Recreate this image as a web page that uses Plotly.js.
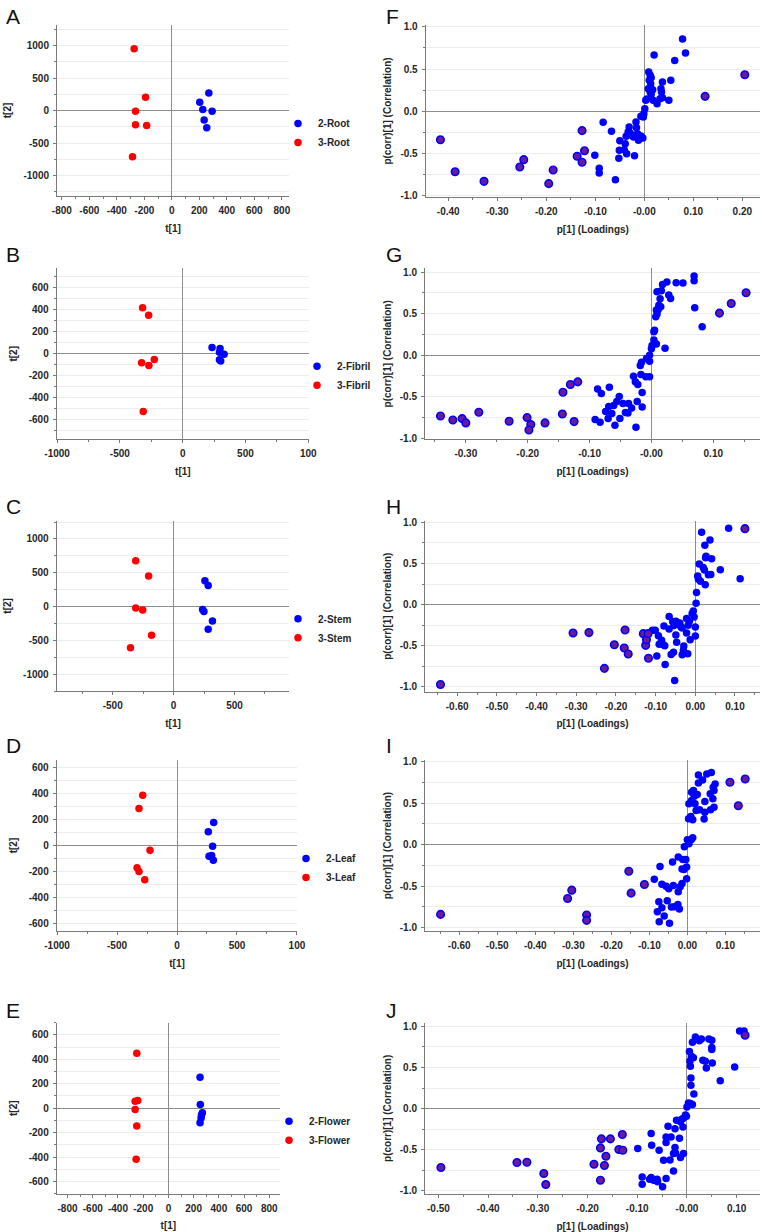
<!DOCTYPE html>
<html><head><meta charset="utf-8">
<script src="https://cdn.plot.ly/plotly-3.0.1.min.js"></script>
<style>html,body{margin:0;padding:0;background:#fff}#chart{width:762px;height:1232px}</style>
</head><body><div id="chart"></div>
<script>
// ---------------- Score plots (t[1] vs t[2]) ----------------
const rootX2 = [269, 203, 225, 293, 235, 254];
const rootY2 = [270, 128, 15, -10, -143, -265];
const rootX3 = [-274, -191, -264, -264, -183, -286];
const rootY3 = [954, 204, -10, -219, -230, -709];

const fibrilX2 = [234, 298, 293, 330, 293, 303];
const fibrilY2 = [57, 48, 15, -3, -54, -66];
const fibrilX3 = [-319, -271, -226, -327, -269, -314];
const fibrilY3 = [419, 350, -51, -81, -106, -525];

const stemX2 = [257, 284, 238, 249, 319, 284];
const stemY2 = [381, 312, -45, -74, -213, -337];
const stemX3 = [-311, -205, -311, -254, -181, -354];
const stemY3 = [678, 450, -20, -50, -426, -609];

const leafX2 = [306, 261, 297, 267, 289, 303];
const leafY2 = [177, 105, -5, -82, -77, -113];
const leafX3 = [-286, -317, -225, -333, -317, -269];
const leafY3 = [387, 285, -36, -172, -200, -264];

const flowerX2 = [251, 253, 269, 262, 259, 251];
const flowerY2 = [254, 30, -38, -55, -80, -120];
const flowerX3 = [-251, -264, -243, -264, -251, -256];
const flowerY3 = [450, 57, 63, -11, -145, -417];

// ---------------- Loading plots (p[1] vs p(corr)[1]) ----------------
const rootLoadX = [-0.101,-0.092,-0.092,-0.084,-0.067,-0.059,-0.052,-0.050,-0.051,-0.041,-0.039,-0.036,-0.037,-0.031,-0.029,-0.033,-0.026,-0.022,-0.020,-0.017,-0.016,-0.014,-0.012,-0.007,-0.003,-0.002,-0.007,-0.001,0.001,0.003,0.005,0.009,0.010,0.012,0.013,0.014,0.008,0.012,0.014,0.017,0.018,0.020,0.026,0.034,0.035,0.037,0.032,0.037,0.050,0.054,0.062,0.078,0.084];
const rootLoadY = [-0.520,-0.673,-0.728,-0.130,-0.236,-0.807,-0.555,-0.346,-0.461,-0.453,-0.382,-0.500,-0.295,-0.185,-0.256,-0.244,-0.283,-0.303,-0.524,-0.126,-0.193,-0.264,-0.343,-0.291,-0.315,-0.067,-0.059,-0.028,0.031,0.130,0.146,0.465,0.366,0.425,0.327,0.398,0.268,0.228,0.201,0.256,0.130,0.665,0.091,0.268,0.228,0.161,0.150,0.346,0.130,0.366,0.602,0.854,0.689];
const rootOutX = [-0.416,-0.386,-0.327,-0.254,-0.246,-0.195,-0.186,-0.137,-0.127,-0.127,-0.122,0.205,0.124];
const rootOutY = [-0.335,-0.713,-0.827,-0.657,-0.571,-0.854,-0.693,-0.531,-0.228,-0.602,-0.465,0.433,0.177];

const fibrilLoadX = [-0.091,-0.087,-0.083,-0.081,-0.074,-0.069,-0.068,-0.070,-0.064,-0.059,-0.061,-0.056,-0.052,-0.051,-0.046,-0.042,-0.038,-0.037,-0.032,-0.029,-0.026,-0.025,-0.023,-0.022,-0.018,-0.016,-0.017,-0.015,-0.015,-0.009,-0.003,-0.008,-0.003,-0.003,0.000,0.001,0.004,0.005,0.004,0.008,0.007,0.009,0.011,0.008,0.012,0.015,0.014,0.009,0.016,0.018,0.025,0.028,0.031,0.040,0.051,0.069,0.069,0.070,0.082,0.022];
const fibrilLoadY = [-0.775,-0.406,-0.807,-0.462,-0.679,-0.618,-0.386,-0.763,-0.703,-0.843,-0.606,-0.558,-0.498,-0.763,-0.582,-0.691,-0.695,-0.582,-0.635,-0.253,-0.321,-0.867,-0.558,-0.353,-0.124,-0.084,-0.233,-0.450,-0.622,-0.261,-0.261,-0.040,-0.072,0.000,0.076,0.116,0.181,0.301,0.281,0.133,0.462,0.494,0.550,0.542,0.602,0.582,0.679,0.763,0.775,0.851,0.880,0.723,0.683,0.871,0.867,0.952,0.896,0.570,0.341,0.084];
const fibrilOutX = [-0.341,-0.321,-0.306,-0.300,-0.279,-0.230,-0.201,-0.195,-0.198,-0.172,-0.144,-0.143,-0.131,-0.119,-0.125,0.110,0.129,0.153];
const fibrilOutY = [-0.731,-0.779,-0.763,-0.815,-0.687,-0.795,-0.751,-0.835,-0.900,-0.815,-0.707,-0.446,-0.353,-0.321,-0.799,0.506,0.622,0.751];

const stemLoadX = [-0.108,-0.101,-0.097,-0.093,-0.091,-0.085,-0.082,-0.079,-0.077,-0.076,-0.066,-0.066,-0.061,-0.057,-0.055,-0.054,-0.052,-0.049,-0.049,-0.047,-0.043,-0.039,-0.036,-0.033,-0.033,-0.030,-0.029,-0.022,-0.022,-0.019,-0.018,-0.015,-0.013,-0.008,-0.005,-0.003,0.000,0.000,0.002,0.003,0.006,0.008,0.010,0.013,0.016,0.020,0.023,0.024,0.026,0.027,0.025,0.033,0.037,0.039,0.041,0.063,0.084,0.113];
const stemLoadY = [-0.313,-0.313,-0.626,-0.378,-0.484,-0.435,-0.484,-0.260,-0.500,-0.728,-0.146,-0.297,-0.606,-0.207,-0.581,-0.256,-0.923,-0.203,-0.370,-0.459,-0.244,-0.224,-0.272,-0.285,-0.610,-0.557,-0.504,-0.171,-0.346,-0.598,-0.252,-0.203,-0.427,-0.110,-0.077,-0.150,-0.272,-0.382,0.016,0.146,0.346,0.309,0.492,0.285,0.878,0.451,0.419,0.720,0.569,0.589,0.240,0.362,0.785,0.366,0.557,0.423,0.927,0.313];
const stemOutX = [-0.642,-0.308,-0.268,-0.229,-0.204,-0.179,-0.177,-0.169,-0.131,-0.125,-0.123,-0.119,-0.118,0.125];
const stemOutY = [-0.972,-0.346,-0.341,-0.776,-0.488,-0.528,-0.309,-0.602,-0.354,-0.496,-0.427,-0.354,-0.654,0.923];

const leafLoadX = [-0.087,-0.072,-0.075,-0.079,-0.074,-0.067,-0.067,-0.061,-0.056,-0.053,-0.049,-0.047,-0.042,-0.039,-0.037,-0.034,-0.025,-0.024,-0.024,-0.021,-0.019,-0.014,-0.014,-0.012,-0.009,-0.004,-0.002,-0.002,-0.008,0.000,0.004,0.010,0.014,0.003,0.009,0.014,0.004,0.011,0.011,0.016,0.018,0.023,0.026,0.029,0.029,0.040,0.046,0.046,0.044,0.051,0.060,0.063,0.061,0.067,0.068,0.070,0.070,0.073,0.020,0.032];
const leafLoadY = [-0.416,-0.264,-0.688,-0.808,-0.928,-0.476,-0.760,-0.860,-0.500,-0.676,-0.532,-0.948,-0.752,-0.208,-0.492,-0.748,-0.720,-0.568,-0.148,-0.776,-0.508,-0.468,-0.292,-0.180,-0.300,-0.180,-0.268,-0.412,-0.024,0.060,0.012,0.060,0.084,0.312,0.340,0.300,0.492,0.532,0.632,0.652,0.584,0.412,0.604,0.744,0.840,0.780,0.520,0.392,0.308,0.852,0.612,0.868,0.420,0.552,0.692,0.652,0.452,0.732,0.492,0.420];
const leafOutX = [-0.649,-0.315,-0.304,-0.265,-0.265,-0.154,-0.148,-0.113,0.112,0.134,0.152];
const leafOutY = [-0.840,-0.648,-0.548,-0.848,-0.912,-0.320,-0.584,-0.480,0.752,0.468,0.792];

const flowerLoadX = [-0.099,-0.090,-0.090,-0.072,-0.071,-0.072,-0.075,-0.067,-0.060,-0.059,-0.056,-0.049,-0.047,-0.042,-0.042,-0.042,-0.038,-0.034,-0.032,-0.027,-0.024,-0.024,-0.023,-0.027,-0.021,-0.015,-0.013,-0.013,-0.011,-0.008,-0.007,-0.008,-0.003,-0.001,0.000,0.003,0.007,0.011,0.008,0.008,0.007,0.006,0.005,0.009,0.013,0.014,0.011,0.017,0.025,0.029,0.032,0.037,0.039,0.044,0.050,0.050,0.050,0.051,0.067,0.096,0.106,0.115];
const flowerLoadY = [-0.487,-0.832,-0.921,-0.304,-0.446,-0.840,-0.860,-0.872,-0.860,-0.892,-0.507,-0.953,-0.629,-0.345,-0.414,-0.852,-0.215,-0.625,-0.345,-0.759,-0.247,-0.475,-0.540,-0.548,-0.142,-0.361,-0.596,-0.162,-0.134,-0.223,-0.548,-0.122,-0.077,-0.093,0.020,0.069,0.061,0.049,0.284,0.373,0.515,0.580,0.694,0.637,0.617,0.178,0.807,0.872,0.824,0.848,0.588,0.576,0.495,0.848,0.832,0.742,0.718,0.556,0.337,0.507,0.945,0.945];
const flowerOutX = [-0.495,-0.342,-0.322,-0.288,-0.284,-0.187,-0.174,-0.174,-0.172,-0.166,-0.163,-0.154,-0.137,-0.130,-0.129,0.117];
const flowerOutY = [-0.718,-0.657,-0.653,-0.791,-0.925,-0.677,-0.479,-0.872,-0.369,-0.694,-0.580,-0.369,-0.499,-0.316,-0.507,0.892];

// ---------------- Tick values / labels ----------------
const ticks800 = [-800,-600,-400,-200,0,200,400,600,800];
const ticks1000 = [-1000,-500,0,500,1000];
const ticks1000Text = ['-1000','-500','0','500','100'];
const ticks500 = [-500,0,500];
const ticksY1000 = [-1000,-500,0,500,1000];
const ticksY600 = [-600,-400,-200,0,200,400,600];
const corrTicks = [-1.0,-0.5,0.0,0.5,1.0];
const corrText = ['-1.0','-0.5','0.0','0.5','1.0'];
const loadTicksF = [-0.4,-0.3,-0.2,-0.1,0,0.1,0.2];
const loadTextF = ['-0.40','-0.30','-0.20','-0.10','-0.00','0.10','0.20'];
const loadTicksG = [-0.3,-0.2,-0.1,0,0.1];
const loadTextG = ['-0.30','-0.20','-0.10','-0.00','0.10'];
const loadTicksH = [-0.6,-0.5,-0.4,-0.3,-0.2,-0.1,0,0.1];
const loadTextH = ['-0.60','-0.50','-0.40','-0.30','-0.20','-0.10','0.00','0.10'];
const loadTicksJ = [-0.5,-0.4,-0.3,-0.2,-0.1,0,0.1];
const loadTextJ = ['-0.50','-0.40','-0.30','-0.20','-0.10','-0.00','0.10'];

// ---------------- Layout / styling ----------------
const W = 762, H = 1232;
const FONT = '"Liberation Sans", Arial, Helvetica, sans-serif';
const BLUE = '#0000ff', RED = '#ff0000', PURPLE = '#6a1a9a';
const AX = '#7a7a7a', ZL = '#8c8c8c', GRID = '#ececec', TXT = '#262626';

const scorePanels = [
  {letter:'A', box:[57,289,25,196], xr:[-835,852], yr:[-1315,1318], xt:ticks800, xtt:ticks800.map(String), xm:100, yt:ticksY1000, ym:250,
   g:[[rootX2,rootY2,'2-Root'],[rootX3,rootY3,'3-Root']], leg:[298,121]},
  {letter:'B', box:[56.7,309,268.3,439.3], xr:[-1003,1006], yr:[-778,778], xt:ticks1000, xtt:ticks1000Text, xm:250, yt:ticksY600, ym:100,
   g:[[fibrilX2,fibrilY2,'2-Fibril'],[fibrilX3,fibrilY3,'3-Fibril']], leg:[317,363.7]},
  {letter:'C', box:[56.7,289.3,520.7,691], xr:[-960,950], yr:[-1250,1270], xt:ticks500, xtt:ticks500.map(String), xm:250, yt:ticksY1000, ym:250,
   g:[[stemX2,stemY2,'2-Stem'],[stemX3,stemY3,'3-Stem']], leg:[298,616.3]},
  {letter:'D', box:[56.7,297.3,760,931], xr:[-1003,1003], yr:[-658,658], xt:ticks1000, xtt:ticks1000Text, xm:250, yt:ticksY600, ym:100,
   g:[[leafX2,leafY2,'2-Leaf'],[leafX3,leafY3,'3-Leaf']], leg:[306,856]},
  {letter:'E', box:[56.7,280,1022.7,1193.7], xr:[-886,885], yr:[-700,700], xt:ticks800, xtt:ticks800.map(String), xm:100, yt:ticksY600, ym:100,
   g:[[flowerX2,flowerY2,'2-Flower'],[flowerX3,flowerY3,'3-Flower']], leg:[289,1118.7]}
];
const loadPanels = [
  {letter:'F', box:[425.7,760,25,197], xr:[-0.446,0.236], yr:[-1.012,1.02], xt:loadTicksF, xtt:loadTextF, b:[rootLoadX,rootLoadY], o:[rootOutX,rootOutY]},
  {letter:'G', box:[425,760,268.3,439.3], xr:[-0.366,0.1755], yr:[-1.012,1.045], xt:loadTicksG, xtt:loadTextG, b:[fibrilLoadX,fibrilLoadY], o:[fibrilOutX,fibrilOutY]},
  {letter:'H', box:[425,760,520.7,691.7], xr:[-0.681,0.163], yr:[-1.06,1.02], xt:loadTicksH, xtt:loadTextH, b:[stemLoadX,stemLoadY], o:[stemOutX,stemOutY]},
  {letter:'I', box:[425,760,760,931], xr:[-0.690,0.191], yr:[-1.04,1.02], xt:loadTicksH, xtt:loadTextH, b:[leafLoadX,leafLoadY], o:[leafOutX,leafOutY]},
  {letter:'J', box:[425,760,1022.7,1194], xr:[-0.527,0.147], yr:[-1.04,1.045], xt:loadTicksJ, xtt:loadTextJ, b:[flowerLoadX,flowerLoadY], o:[flowerOutX,flowerOutY]}
];

const tickFont = {family:FONT, size:10, weight:'bold', color:TXT};
const titleFont = {family:FONT, size:10, weight:'bold', color:TXT};

function baseAxis(box, isX, range) {
  const dom = isX ? [box[0]/W, box[1]/W] : [1 - box[3]/H, 1 - box[2]/H];
  return {
    domain: dom, range: range, autorange: false, fixedrange: true,
    showline: true, linecolor: AX, linewidth: 1, mirror: false,
    ticks: 'outside', ticklen: 3, tickcolor: AX, tickwidth: 1,
    zeroline: true, zerolinecolor: ZL, zerolinewidth: 1,
    showgrid: !isX, gridcolor: GRID, gridwidth: 1,
    tickfont: tickFont, tickmode: 'array', ticklabelstandoff: 2
  };
}

const traces = [];
const layout = {
  width: W, height: H, margin: {l:0, r:0, t:0, b:0},
  paper_bgcolor: '#ffffff', plot_bgcolor: '#ffffff',
  font: {family: FONT, color: TXT},
  showlegend: true, annotations: []
};

let idx = 0;
function addLetter(letter, x, y) {
  layout.annotations.push({xref:'paper', yref:'paper', x: x/W, y: 1 - y/H, xanchor:'left', yanchor:'middle',
    text: letter, showarrow:false, font:{family:FONT, size:21, color:'#111111'}});
}

const letterY = [16.7, 255, 506.7, 745, 1010];

scorePanels.forEach((p, i) => {
  idx++;
  const sx = idx === 1 ? '' : String(idx);
  const xa = baseAxis(p.box, true, p.xr);
  xa.tickvals = p.xt; xa.ticktext = p.xtt; xa.anchor = 'y' + sx;
  xa.minor = {tickmode:'linear', tick0:0, dtick:p.xm, ticks:'outside', ticklen:2, tickcolor:AX, showgrid:false};
  xa.title = {text:'t[1]', font:titleFont, standoff:9};
  const ya = baseAxis(p.box, false, p.yr);
  ya.tickvals = p.yt; ya.ticktext = p.yt.map(String); ya.anchor = 'x' + sx;
  ya.minor = {tickmode:'linear', tick0:0, dtick:p.ym, ticks:'outside', ticklen:2, tickcolor:AX, showgrid:true, gridcolor:GRID};
  ya.title = {text:'t[2]', font:titleFont, standoff:9};
  layout['xaxis' + sx] = xa;
  layout['yaxis' + sx] = ya;
  const legName = idx === 1 ? 'legend' : 'legend' + idx;
  layout[legName] = {x: (p.leg[0] - 20)/W, y: 1 - (p.leg[1] - 12)/H, xanchor:'left', yanchor:'top',
    bgcolor:'rgba(0,0,0,0)', borderwidth:0, font:{family:FONT, size:10, weight:'bold', color:TXT},
    itemwidth:30, tracegroupgap:0, itemclick:false, itemdoubleclick:false};
  const cols = [BLUE, RED];
  p.g.forEach((g, k) => {
    traces.push({type:'scatter', mode:'markers', x:g[0], y:g[1], name:g[2],
      xaxis:'x' + sx, yaxis:'y' + sx, legend: legName, showlegend:true,
      marker:{color:cols[k], size:7.5, line:{width:0}}, hoverinfo:'x+y+name'});
  });
  addLetter(p.letter, 4, letterY[i]);
});

loadPanels.forEach((p, i) => {
  idx++;
  const sx = String(idx);
  const xa = baseAxis(p.box, true, p.xr);
  xa.tickvals = p.xt; xa.ticktext = p.xtt; xa.anchor = 'y' + sx;
  xa.minor = {tickmode:'linear', tick0:0, dtick:0.05, ticks:'outside', ticklen:2, tickcolor:AX, showgrid:false};
  xa.title = {text:'p[1] (Loadings)', font:titleFont, standoff:9};
  const ya = baseAxis(p.box, false, p.yr);
  ya.tickvals = corrTicks; ya.ticktext = corrText; ya.anchor = 'x' + sx;
  ya.minor = {tickmode:'linear', tick0:0, dtick:0.25, ticks:'outside', ticklen:2, tickcolor:AX, showgrid:true, gridcolor:GRID};
  ya.title = {text:'p(corr)[1] (Correlation)', font:titleFont, standoff:6};
  layout['xaxis' + sx] = xa;
  layout['yaxis' + sx] = ya;
  traces.push({type:'scatter', mode:'markers', x:p.b[0], y:p.b[1], name:'Variables',
    xaxis:'x' + sx, yaxis:'y' + sx, showlegend:false,
    marker:{color:BLUE, size:7.5, line:{width:0}}, hoverinfo:'x+y'});
  traces.push({type:'scatter', mode:'markers', x:p.o[0], y:p.o[1], name:'Variables (outer)',
    xaxis:'x' + sx, yaxis:'y' + sx, showlegend:false,
    marker:{color:PURPLE, size:7.5, line:{width:1.6, color:BLUE}}, hoverinfo:'x+y'});
  addLetter(p.letter, 384, letterY[i]);
});

Plotly.newPlot('chart', traces, layout, {staticPlot:true, displayModeBar:false});
</script>
</body></html>
